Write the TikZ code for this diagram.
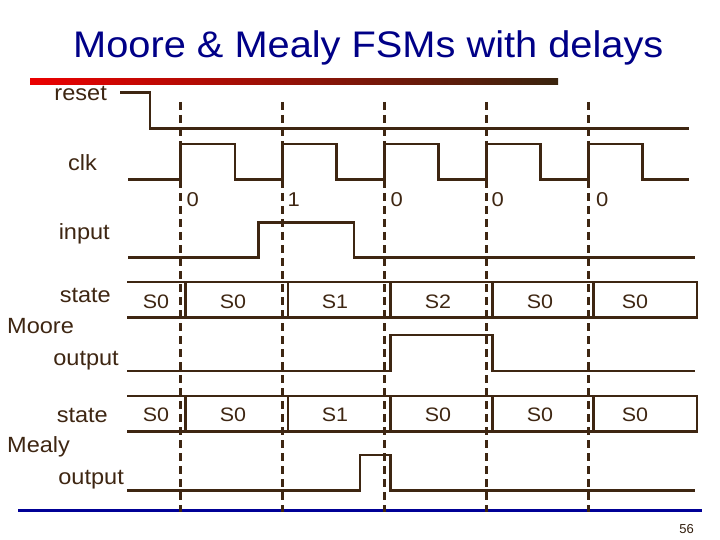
\documentclass[tikz,border=0pt]{standalone}
\usepackage{fontspec}
\setmainfont{Liberation Sans}
\definecolor{wave}{RGB}{62,38,18}
\definecolor{titleblue}{RGB}{0,0,135}
\definecolor{barred}{RGB}{235,0,0}
\definecolor{bardark}{RGB}{58,36,14}
\definecolor{lineblue}{RGB}{0,0,150}
\newcommand{\wx}[2]{\scalebox{#1}[1]{#2}}
\tikzset{
  sig/.style={draw=wave,line width=2.7pt,line join=miter},
  tick/.style={draw=wave,line width=3pt,dash pattern=on 8pt off 5pt},
  lbl/.style={text=wave,inner sep=0pt,anchor=base east,font=\fontsize{22}{26}\selectfont},
  stxt/.style={text=wave,inner sep=0pt,anchor=base,font=\fontsize{19.5}{24}\selectfont},
  cnt/.style={text=wave,inner sep=0pt,anchor=base west,font=\fontsize{20}{24}\selectfont}
}
\begin{document}
\begin{tikzpicture}[x=1pt,y=-1pt]
\useasboundingbox (0,0) rectangle (720,540);
% title
\node[anchor=base west,inner sep=0pt,text=titleblue,font=\fontsize{37}{44}\selectfont] (title) at (73,57.3) {\wx{1.075}{Moore \& Mealy FSMs with delays}};
% red bar
\shade[left color=barred,right color=bardark] (30,78.5) rectangle (558,84.5);
% bottom blue line
\draw[lineblue,line width=3pt] (18,510) -- (702,510);
% dashed clock lines
\foreach \r [count=\i] in {180.5,282.5,384.5,486.5,588.5} {
  \coordinate (dt\i) at (\r,102);
  \coordinate (db\i) at (\r,512);
  \draw[tick] (dt\i) -- (db\i);
}
% labels
\node[lbl] (lreset) at (107,100.7) {\wx{1.07}{reset}};
\node[lbl] (lclk) at (97,170.7) {\wx{1.07}{clk}};
\node[lbl] (linput) at (110,240) {\wx{1.07}{input}};
\node[lbl] (lstate1) at (111,302) {\wx{1.07}{state}};
\node[text=wave,inner sep=0pt,anchor=base west,font=\fontsize{22}{26}\selectfont] (lmoore) at (7,333) {\wx{1.07}{Moore}};
\node[lbl] (lout1) at (119,365) {\wx{1.07}{output}};
\node[lbl] (lstate2) at (108,422) {\wx{1.07}{state}};
\node[text=wave,inner sep=0pt,anchor=base west,font=\fontsize{22}{26}\selectfont] (lmealy) at (7,452.7) {\wx{1.07}{Mealy}};
\node[lbl] (lout2) at (124,484) {\wx{1.07}{output}};
% reset
\draw[sig] (120,92.5) -- (150,92.5) -- (150,128.5) -- (689,128.5);
% clk
\draw[sig] (128,179.5) -- (180.5,179.5) -- (180.5,144) -- (235,144) -- (235,179.5)
  -- (282.5,179.5) -- (282.5,144) -- (336.5,144) -- (336.5,179.5)
  -- (384.5,179.5) -- (384.5,144) -- (438.5,144) -- (438.5,179.5)
  -- (486.5,179.5) -- (486.5,144) -- (540.5,144) -- (540.5,179.5)
  -- (588.5,179.5) -- (588.5,144) -- (642.5,144) -- (642.5,179.5) -- (689,179.5);
% input values
\node[cnt] (v0) at (186.5,207) {\wx{1.1}{0}};
\node[cnt] (v1) at (287.5,207) {\wx{1.1}{1}};
\node[cnt] (v2) at (390.5,207) {\wx{1.1}{0}};
\node[cnt] (v3) at (491.5,207) {\wx{1.1}{0}};
\node[cnt] (v4) at (596,207) {\wx{1.1}{0}};
% input
\draw[sig] (128,257.5) -- (258.5,257.5) -- (258.5,222.5) -- (354,222.5) -- (354,257.5) -- (695,257.5);
% Moore state bus
\draw[sig] (127,282) -- (697,282) -- (697,317.5) -- (127,317.5);
\foreach \s in {185.5,288,390.5,492.5,593.5} \draw[sig] (\s,282) -- (\s,317.5);
\foreach \x/\t [count=\i] in {156/S0,233/S0,335/S1,438/S2,540/S0,635/S0}
  \node[stxt] (ms\i) at (\x,308.3) {\wx{1.1}{\t}};
% Moore output
\draw[sig] (127,371) -- (390.5,371) -- (390.5,335) -- (492.5,335) -- (492.5,371) -- (695,371);
% Mealy state bus
\draw[sig] (127,396) -- (697,396) -- (697,431.5) -- (127,431.5);
\foreach \s in {185.5,288,390.5,492.5,593.5} \draw[sig] (\s,396) -- (\s,431.5);
\foreach \x/\t [count=\i] in {156/S0,233/S0,335/S1,438/S0,540/S0,635/S0}
  \node[stxt] (ys\i) at (\x,421.7) {\wx{1.1}{\t}};
% Mealy output
\draw[sig] (127,490.7) -- (360,490.7) -- (360,455) -- (390.5,455) -- (390.5,490.7) -- (695,490.7);
% page number
\node[text=wave!80!black,inner sep=0pt,anchor=base east,font=\fontsize{13}{15}\selectfont] (pg) at (694,533) {56};
\end{tikzpicture}
\end{document}
